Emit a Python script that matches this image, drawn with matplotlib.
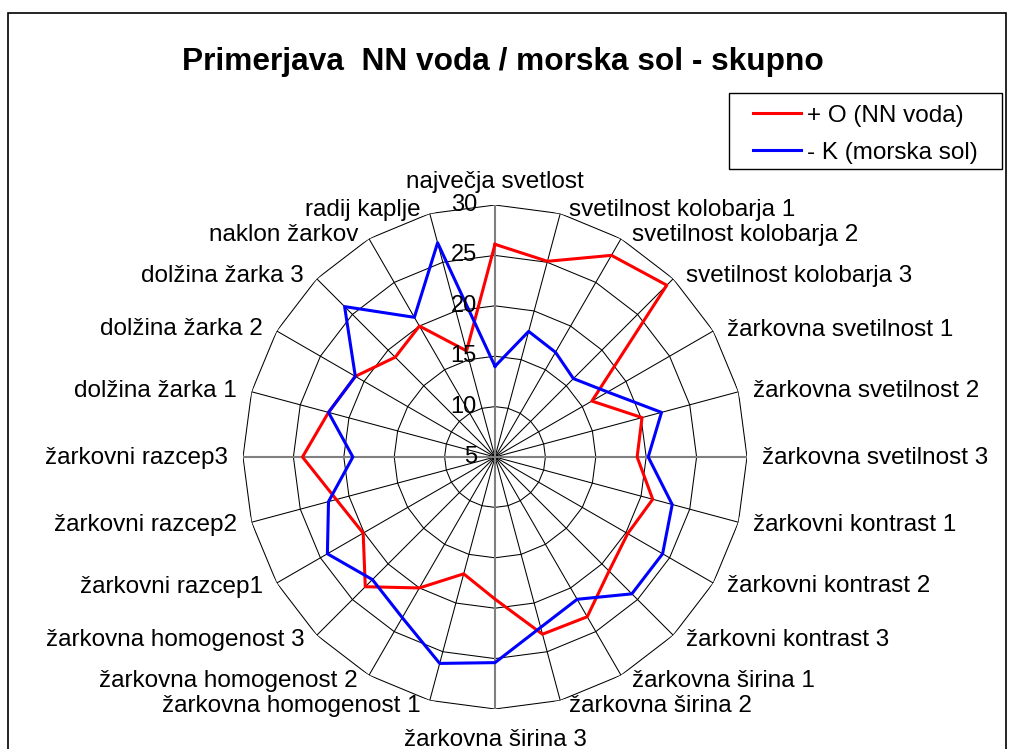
import numpy as np
import matplotlib
matplotlib.use("Agg")
import matplotlib.pyplot as plt
from matplotlib.patches import Rectangle

plt.rcParams['font.family'] = ['Liberation Sans', 'DejaVu Sans']

categories = ["največja svetlost", "svetilnost kolobarja 1", "svetilnost kolobarja 2",
              "svetilnost kolobarja 3", "žarkovna svetilnost 1", "žarkovna svetilnost 2",
              "žarkovna svetilnost 3", "žarkovni kontrast 1", "žarkovni kontrast 2",
              "žarkovni kontrast 3", "žarkovna širina 1", "žarkovna širina 2",
              "žarkovna širina 3", "žarkovna homogenost 1", "žarkovna homogenost 2",
              "žarkovna homogenost 3", "žarkovni razcep1", "žarkovni razcep2",
              "žarkovni razcep3", "dolžina žarka 1", "dolžina žarka 2",
              "dolžina žarka 3", "naklon žarkov", "radij kaplje"]

nn_voda = [26.1, 25.1, 28.1, 29.1, 16.1, 20.1, 19.1, 21.2, 20.2, 21.0, 23.3, 23.2,
           19.1, 17.0, 20.0, 23.2, 20.1, 21.3, 24.1, 22.1, 21.0, 19.0, 20.0, 15.9]
morska_sol = [14.0, 17.9, 17.0, 16.0, 17.9, 22.1, 20.2, 23.2, 24.2, 24.2, 21.3, 22.5,
              25.4, 26.2, 23.4, 22.2, 24.2, 22.1, 19.1, 22.1, 21.0, 26.1, 21.0, 27.0]

ring_values = [5, 10, 15, 20, 25, 30]
series_names = ["+ O (NN voda)", "- K (morska sol)"]

W, H = 1009, 749
fig = plt.figure(figsize=(W / 100, H / 100), dpi=100)

# polar axes: centre at (495, 457) px, radius 252 px
cx, cy, R = 495, 457, 252
ax = fig.add_axes([(cx - R) / W, (H - cy - R) / H, 2 * R / W, 2 * R / H], projection='polar')
ax.set_theta_offset(np.pi / 2)
ax.set_theta_direction(-1)
ax.set_ylim(ring_values[0], ring_values[-1])
ax.grid(False)
ax.set_xticks([])
ax.set_yticks([])
ax.spines['polar'].set_visible(False)
ax.patch.set_visible(False)

n = len(categories)
theta = np.arange(n) * 2 * np.pi / n
closed = np.append(theta, theta[0])

# polygon rings
for v in ring_values[1:]:
    ax.plot(closed, [v] * (n + 1), color='black', lw=0.75, zorder=1)

# spokes
for i, t in enumerate(theta):
    if i % 6 == 0:
        ax.plot([t, t], [ring_values[0], ring_values[-1]], color='#808080', lw=1.5, zorder=1.5)
    else:
        ax.plot([t, t], [ring_values[0], ring_values[-1]], color='black', lw=0.75, zorder=1)

# data
ax.plot(closed, nn_voda + nn_voda[:1], color='#FF0000', lw=2.2, zorder=3, label=series_names[0])
ax.plot(closed, morska_sol + morska_sol[:1], color='#0000FF', lw=2.2, zorder=3, label=series_names[1])

# ring labels
for v in ring_values:
    ax.annotate(str(v), xy=(0, v), xytext=(-18, 0), textcoords='offset pixels',
                ha='right', va='center', fontsize=17, zorder=4)

# category labels
fs = 17.5
for i, (t, lbl) in enumerate(zip(theta, categories)):
    s, c = np.sin(t), np.cos(t)
    if i == 0:
        ax.annotate(lbl, xy=(t, 30), xytext=(0, 12), textcoords='offset pixels',
                    ha='center', va='bottom', fontsize=fs)
    elif i == n // 2:
        ax.annotate(lbl, xy=(t, 30), xytext=(0, -20), textcoords='offset pixels',
                    ha='center', va='top', fontsize=fs)
    else:
        dx = np.sign(s) * (7 + 8 * abs(s))
        dy = 5 * c - 1
        ax.annotate(lbl, xy=(t, 30), xytext=(dx, dy), textcoords='offset pixels',
                    ha='left' if s > 0 else 'right', va='center', fontsize=fs)

fig.text(503 / W, 1 - 62 / H, "Primerjava  NN voda / morska sol - skupno",
         ha='center', va='center', fontsize=22.8, fontweight='bold')

leg = fig.legend(loc='upper left', bbox_to_anchor=(743 / W, 1 - 95 / H),
                 fontsize=fs, frameon=False, handlelength=2.0,
                 handletextpad=0.25, labelspacing=0.62, borderpad=0.4, borderaxespad=0)

# legend box
fig.patches.append(Rectangle((729 / W, 1 - 169 / H), 273 / W, 76 / H, transform=fig.transFigure,
                             fill=False, edgecolor='black', lw=1.0))
# chart area border
fig.patches.append(Rectangle((8 / W, -0.01), 998 / W, 1.01 - 13 / H, transform=fig.transFigure,
                             fill=False, edgecolor='black', lw=1.2))

fig.savefig("out.png", dpi=100)
